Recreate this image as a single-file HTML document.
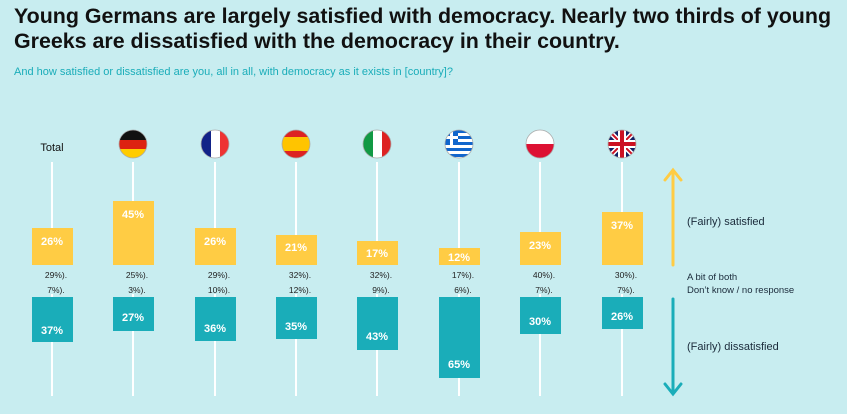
<!DOCTYPE html>
<html><head><meta charset="utf-8"><style>
body{margin:0;width:847px;height:414px;background:#C8EDF0;font-family:"Liberation Sans",sans-serif;overflow:hidden;position:relative}
h1{position:absolute;left:14px;top:4px;margin:0;font-size:21.4px;line-height:25px;font-weight:bold;color:#111;width:835px}
.sub{position:absolute;left:14px;top:66px;font-size:11px;color:#1AADB9}
</style></head><body>
<h1>Young Germans are largely satisfied with democracy. Nearly two thirds of young Greeks are dissatisfied with the democracy in their country.</h1>
<div class="sub">And how satisfied or dissatisfied are you, all in all, with democracy as it exists in [country]?</div>
<svg width="847" height="414" style="position:absolute;left:0;top:0" font-family="Liberation Sans, sans-serif">
<defs>
<clipPath id="c1"><circle cx="133" cy="144" r="14"/></clipPath>
<clipPath id="c2"><circle cx="215" cy="144" r="14"/></clipPath>
<clipPath id="c3"><circle cx="296" cy="144" r="14"/></clipPath>
<clipPath id="c4"><circle cx="377" cy="144" r="14"/></clipPath>
<clipPath id="c5"><circle cx="459" cy="144" r="14"/></clipPath>
<clipPath id="c6"><circle cx="540" cy="144" r="14"/></clipPath>
<clipPath id="c7"><circle cx="622" cy="144" r="14"/></clipPath>
</defs>
<text x="52" y="151" font-size="11" text-anchor="middle" fill="#111">Total</text>
<g clip-path="url(#c1)"><rect x="119" y="130" width="28" height="10" fill="#111"/><rect x="119" y="140" width="28" height="9" fill="#DD2211"/><rect x="119" y="149" width="28" height="10" fill="#FFCC00"/></g>
<g clip-path="url(#c2)"><rect x="201" y="130" width="10" height="28" fill="#112288"/><rect x="211" y="130" width="9" height="28" fill="#fff"/><rect x="220" y="130" width="10" height="28" fill="#EE3333"/></g>
<g clip-path="url(#c3)"><rect x="282" y="130" width="28" height="28" fill="#DD2222"/><rect x="282" y="137" width="28" height="14" fill="#FFC400"/></g>
<g clip-path="url(#c4)"><rect x="363" y="130" width="10" height="28" fill="#119944"/><rect x="373" y="130" width="9" height="28" fill="#fff"/><rect x="382" y="130" width="10" height="28" fill="#DD2222"/></g>
<g clip-path="url(#c5)"><rect x="445" y="130" width="28" height="28" fill="#fff"/><g fill="#1166CC"><rect x="445" y="130" width="28" height="3"/><rect x="445" y="136" width="28" height="3"/><rect x="445" y="142" width="28" height="3"/><rect x="445" y="148" width="28" height="3"/><rect x="445" y="154" width="28" height="3"/><rect x="445" y="130" width="13" height="15"/></g><rect x="450" y="130" width="3" height="15" fill="#fff"/><rect x="445" y="136" width="13" height="3" fill="#fff"/></g>
<g clip-path="url(#c6)"><rect x="526" y="130" width="28" height="14" fill="#fff"/><rect x="526" y="144" width="28" height="14" fill="#DD1133"/></g>
<g clip-path="url(#c7)"><rect x="608" y="130" width="28" height="28" fill="#112266"/><path d="M608 130L636 158M636 130L608 158" stroke="#fff" stroke-width="5"/><path d="M608 130L636 158M636 130L608 158" stroke="#CC1122" stroke-width="2"/><rect x="608" y="140" width="28" height="8" fill="#fff"/><rect x="618" y="130" width="8" height="28" fill="#fff"/><rect x="608" y="142" width="28" height="4" fill="#CC1122"/><rect x="620" y="130" width="4" height="28" fill="#CC1122"/></g>
<g fill="none" stroke="#aaa" stroke-width="0.8"><circle cx="133" cy="144" r="14"/><circle cx="215" cy="144" r="14"/><circle cx="296" cy="144" r="14"/><circle cx="377" cy="144" r="14"/><circle cx="459" cy="144" r="14"/><circle cx="540" cy="144" r="14"/><circle cx="622" cy="144" r="14"/></g>
<g stroke="#fff" stroke-width="2">
<line x1="52" y1="162" x2="52" y2="396"/><line x1="133" y1="162" x2="133" y2="396"/><line x1="215" y1="162" x2="215" y2="396"/><line x1="296" y1="162" x2="296" y2="396"/><line x1="377" y1="162" x2="377" y2="396"/><line x1="459" y1="162" x2="459" y2="396"/><line x1="540" y1="162" x2="540" y2="396"/><line x1="622" y1="162" x2="622" y2="396"/>
</g>
<rect x="32" y="254" width="40" height="40" fill="#C8EDF0"/><rect x="113" y="254" width="40" height="40" fill="#C8EDF0"/><rect x="195" y="254" width="40" height="40" fill="#C8EDF0"/><rect x="276" y="254" width="40" height="40" fill="#C8EDF0"/><rect x="357" y="254" width="40" height="40" fill="#C8EDF0"/><rect x="439" y="254" width="40" height="40" fill="#C8EDF0"/><rect x="520" y="254" width="40" height="40" fill="#C8EDF0"/><rect x="602" y="254" width="40" height="40" fill="#C8EDF0"/>
<g fill="#FFCC44">
<rect x="32" y="228" width="41" height="37"/><rect x="113" y="201" width="41" height="64"/><rect x="195" y="228" width="41" height="37"/><rect x="276" y="235" width="41" height="30"/><rect x="357" y="241" width="41" height="24"/><rect x="439" y="248" width="41" height="17"/><rect x="520" y="232" width="41" height="33"/><rect x="602" y="212" width="41" height="53"/>
</g>
<g fill="#1AADB9">
<rect x="32" y="297" width="41" height="45"/><rect x="113" y="297" width="41" height="34"/><rect x="195" y="297" width="41" height="44"/><rect x="276" y="297" width="41" height="42"/><rect x="357" y="297" width="41" height="53"/><rect x="439" y="297" width="41" height="81"/><rect x="520" y="297" width="41" height="37"/><rect x="602" y="297" width="41" height="32"/>
</g>
<g fill="#fff" font-size="11" font-weight="bold" text-anchor="middle">
<text x="52" y="245">26%</text><text x="133" y="218">45%</text><text x="215" y="245">26%</text><text x="296" y="251">21%</text><text x="377" y="257">17%</text><text x="459" y="261">12%</text><text x="540" y="249">23%</text><text x="622" y="229">37%</text>
<text x="52" y="334">37%</text><text x="133" y="321">27%</text><text x="215" y="332">36%</text><text x="296" y="330">35%</text><text x="377" y="340">43%</text><text x="459" y="368">65%</text><text x="540" y="325">30%</text><text x="622" y="320">26%</text>
</g>
<g fill="#222" font-size="8.5" text-anchor="middle">
<text x="56" y="278">29%).</text><text x="137" y="278">25%).</text><text x="219" y="278">29%).</text><text x="300" y="278">32%).</text><text x="381" y="278">32%).</text><text x="463" y="278">17%).</text><text x="544" y="278">40%).</text><text x="626" y="278">30%).</text>
<text x="56" y="293">7%).</text><text x="137" y="293">3%).</text><text x="219" y="293">10%).</text><text x="300" y="293">12%).</text><text x="381" y="293">9%).</text><text x="463" y="293">6%).</text><text x="544" y="293">7%).</text><text x="626" y="293">7%).</text>
</g>
<g stroke-width="3" fill="none" stroke-linecap="round">
<line x1="673" y1="172" x2="673" y2="265" stroke="#FFCC44"/><path d="M665 180L673 170L681 180" stroke="#FFCC44"/>
<line x1="673" y1="299" x2="673" y2="392" stroke="#1AADB9"/><path d="M665 384L673 394L681 384" stroke="#1AADB9"/>
</g>
<g fill="#1a2a3a" font-size="11">
<text x="687" y="225">(Fairly) satisfied</text>
<text x="687" y="280" font-size="9.5">A bit of both</text>
<text x="687" y="293" font-size="9.5">Don’t know / no response</text>
<text x="687" y="350">(Fairly) dissatisfied</text>
</g>
</svg>
</body></html>
